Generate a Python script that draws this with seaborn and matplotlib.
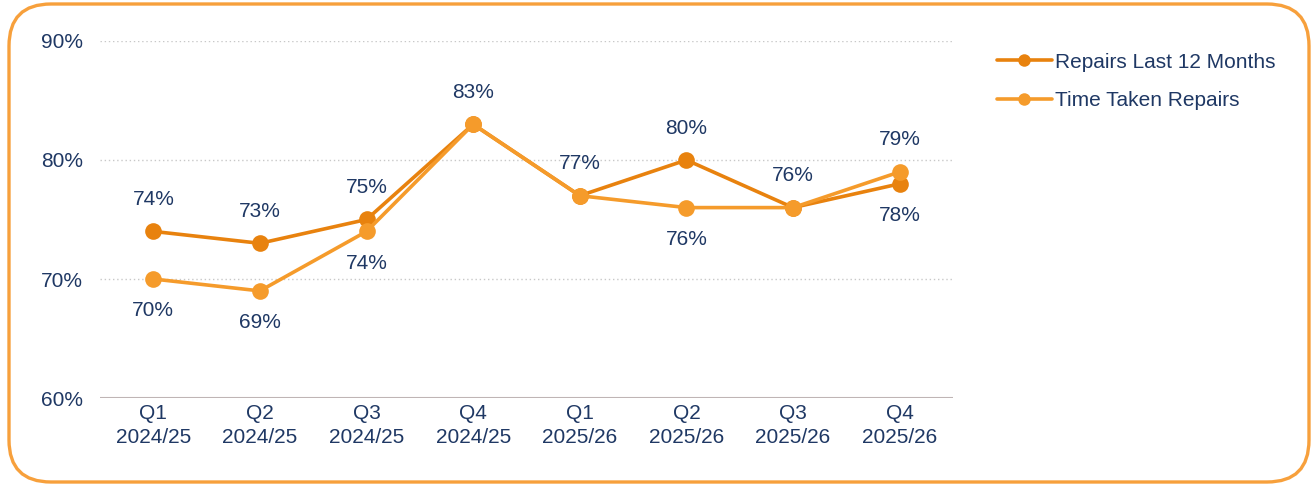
import matplotlib
matplotlib.use("Agg")
import matplotlib.pyplot as plt
import seaborn as sns
import pandas as pd
from matplotlib.patches import FancyBboxPatch
from matplotlib.ticker import PercentFormatter
from matplotlib.transforms import IdentityTransform

categories = ["Q1\n2024/25", "Q2\n2024/25", "Q3\n2024/25", "Q4\n2024/25",
              "Q1\n2025/26", "Q2\n2025/26", "Q3\n2025/26", "Q4\n2025/26"]
repairs_12m = [74, 73, 75, 83, 77, 80, 76, 78]
time_taken = [70, 69, 74, 83, 77, 76, 76, 79]
series_names = ["Repairs Last 12 Months", "Time Taken Repairs"]
# label placement: +1 above, -1 below, 0 none
repairs_label_pos = [1, 1, 1, 1, 1, 1, 1, -1]
time_label_pos = [-1, -1, -1, 0, 0, -1, 0, 1]

dark_orange = "#E8820E"
light_orange = "#F59B2B"
navy = "#1F3864"
FS = 15

sns.set_theme(style="white")
plt.rcParams["font.family"] = ["Liberation Sans", "DejaVu Sans"]

fig = plt.figure(figsize=(13.11, 4.86), dpi=100)
ax = fig.add_axes([100/1311, 1-398/486, 853/1311, 357/486])

df = pd.DataFrame({
    "x": list(range(len(categories))) * 2,
    "value": repairs_12m + time_taken,
    "series": [series_names[0]] * len(categories) + [series_names[1]] * len(categories),
})

sns.lineplot(data=df, x="x", y="value", hue="series", palette=[dark_orange, light_orange],
             marker="o", markersize=12, linewidth=2.6, markeredgewidth=0, ax=ax,
             legend=True, sort=False)

ax.set_xlim(-0.5, len(categories) - 0.5)
ax.set_ylim(60, 90)
ax.set_yticks([60, 70, 80, 90])
ax.yaxis.set_major_formatter(PercentFormatter(decimals=0))
ax.set_xticks(range(len(categories)))
ax.set_xticklabels(categories, linespacing=1.35)
ax.set_xlabel("")
ax.set_ylabel("")
ax.tick_params(axis="both", colors=navy, labelsize=FS, length=0)
ax.tick_params(axis="y", pad=12)
ax.tick_params(axis="x", pad=4)
for lab in ax.get_xticklabels() + ax.get_yticklabels():
    lab.set_color(navy)

for y in [70, 80, 90]:
    ax.axhline(y, color="#C8C8C8", linestyle=(0, (1, 2)), linewidth=1.0, zorder=0)
ax.axhline(60, color="#BFB5B5", linewidth=1.5, zorder=0)
for s in ax.spines.values():
    s.set_visible(False)

def annotate(vals, pos):
    for i, (v, p) in enumerate(zip(vals, pos)):
        if p == 0:
            continue
        off = 23 if p > 0 else -23
        ax.annotate(f"{v}%", (i, v), xytext=(0, off), textcoords="offset points",
                    ha="center", va="center", color=navy, fontsize=FS)

annotate(repairs_12m, repairs_label_pos)
annotate(time_taken, time_label_pos)

leg = ax.legend(loc="upper left", bbox_to_anchor=(1.03, 1.02), frameon=False,
                fontsize=FS, handlelength=2.6, handletextpad=0.15, labelspacing=0.95)
for t in leg.get_texts():
    t.set_color(navy)
for h in leg.get_lines():
    h.set_markersize(9)

# rounded border in pixel coordinates
border = FancyBboxPatch((9, 4), 1300, 478,
                        boxstyle="round,pad=0,rounding_size=42",
                        transform=IdentityTransform(), fill=False,
                        edgecolor="#F7A03C", linewidth=2.4)
fig.patches.append(border)

fig.savefig("out.png", dpi=100)
